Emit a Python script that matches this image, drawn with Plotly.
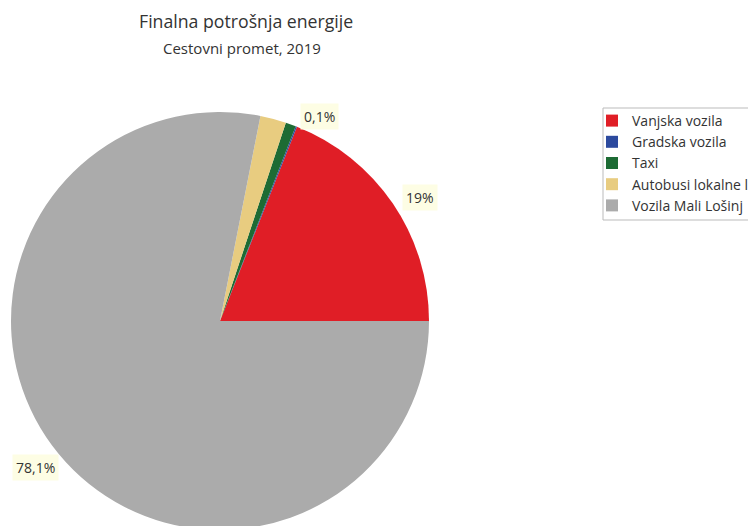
import numpy as np
import plotly.graph_objects as go

W, H = 756, 526

labels = ["Vanjska vozila", "Gradska vozila", "Taxi", "Autobusi lokalne linije", "Vozila Mali Lošinj"]
values = [19.0, 0.1, 0.8, 2.0, 78.1]
colors = ["#E01E26", "#2C4A9E", "#1D6B34", "#E8CC80", "#ABABAB"]
# which slices get a value label
shown = ["19%", "0,1%", None, None, "78,1%"]

# pie placement in figure pixels (page adds an 8px body margin)
dom_x = (3, 421)
dom_y = (104, 522)  # from top
total = sum(values)

fig = go.Figure()
fig.add_trace(go.Pie(
    labels=labels, values=values, sort=False,
    direction="counterclockwise", rotation=90 - 360 * values[0] / total,
    marker=dict(colors=colors, line=dict(width=0)),
    textinfo="none", hoverinfo="label+percent",
    domain=dict(x=[dom_x[0] / W, dom_x[1] / W],
                y=[1 - dom_y[1] / H, 1 - dom_y[0] / H]),
))

# label positions from slice mid-angles
cx = (dom_x[0] + dom_x[1]) / 2
cy = (dom_y[0] + dom_y[1]) / 2
R = min(dom_x[1] - dom_x[0], dom_y[1] - dom_y[0]) / 2
cum = np.cumsum([0] + values[:-1])
for v, c, txt in zip(values, cum, shown):
    if txt is None:
        continue
    ang = np.deg2rad((c + v / 2) / total * 360)
    right = np.cos(ang) > 0
    k = 1.05 if right else 1.0
    px = cx + k * R * np.cos(ang)
    py = cy - k * R * np.sin(ang)
    fig.add_annotation(x=px / W, y=1 - py / H, xref="paper", yref="paper",
                       xanchor="left" if right else "right",
                       yanchor="middle" if right else "top",
                       text=txt, showarrow=False, bgcolor="#FDFDE4",
                       borderpad=3, font=dict(size=14, color="#333"))

fig.add_annotation(x=238 / W, y=1 - 13 / H, xref="paper", yref="paper",
                   xanchor="center", yanchor="middle",
                   text="Finalna potrošnja energije", showarrow=False,
                   font=dict(size=17.7, color="#333"))
fig.add_annotation(x=234 / W, y=1 - 40 / H, xref="paper", yref="paper",
                   xanchor="center", yanchor="middle",
                   text="Cestovni promet, 2019", showarrow=False,
                   font=dict(size=15, color="#333"))

# legend frame
fig.add_shape(type="rect", xref="paper", yref="paper",
              x0=595 / W, x1=1.02, y0=1 - 212 / H, y1=1 - 100 / H,
              line=dict(color="#BBBBBB", width=1), fillcolor="rgba(0,0,0,0)")

fig.update_layout(
    width=W, height=H,
    margin=dict(l=0, r=0, t=0, b=0, autoexpand=False),
    paper_bgcolor="white",
    font=dict(family="Open Sans", color="#333"),
    legend=dict(x=584 / W, y=1 - 97 / H, xanchor="left", yanchor="top",
                borderwidth=0, itemwidth=30, bgcolor="rgba(0,0,0,0)",
                font=dict(size=14, color="#333")),
)

fig.write_html("out.html")
